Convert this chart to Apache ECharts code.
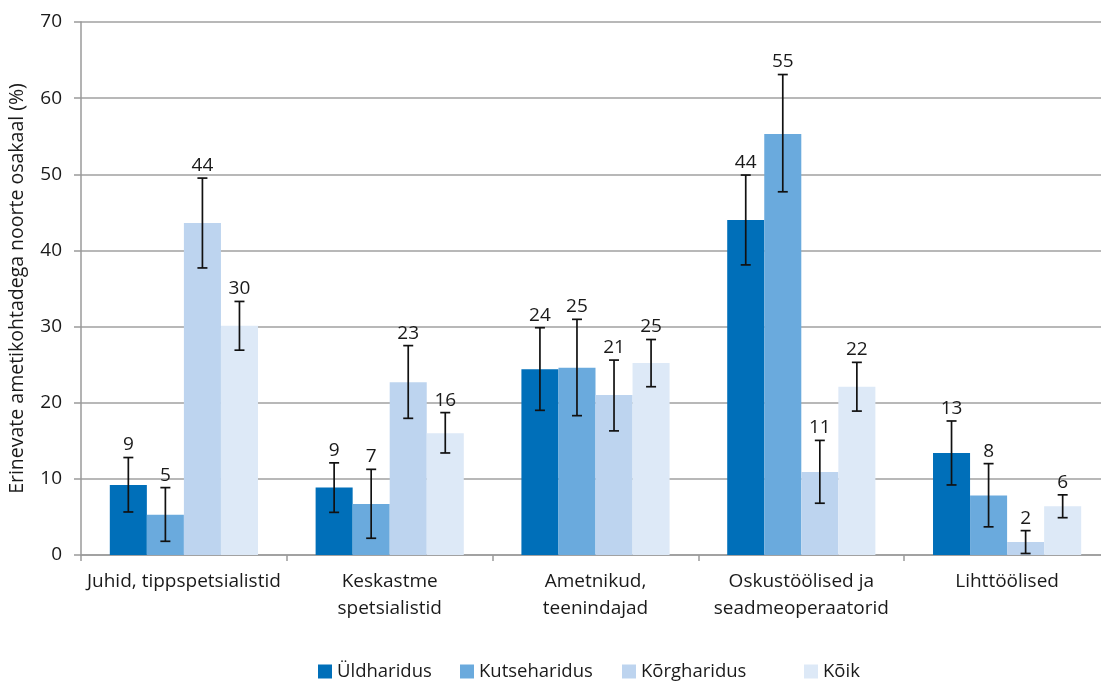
<!DOCTYPE html>
<html><head><meta charset="utf-8">
<script src="https://cdn.jsdelivr.net/npm/echarts@6/dist/echarts.min.js"></script>
<style>html,body{margin:0;padding:0;background:#fff}#c{width:1101px;height:681px}</style>
</head><body><div id="c"></div>
<script>
const categories = ['Juhid, tippspetsialistid', 'Keskastme\nspetsialistid', 'Ametnikud,\nteenindajad', 'Oskustöölised ja\nseadmeoperaatorid', 'Lihttöölised'];
const seriesNames = ['Üldharidus', 'Kutseharidus', 'Kõrgharidus', 'Kõik'];
const yTicks = [0, 10, 20, 30, 40, 50, 60, 70];

const uldValues = [9.2, 8.85, 24.4, 44.0, 13.4];
const uldLow    = [5.65, 5.6, 19.0, 38.1, 9.2];
const uldHigh   = [12.8, 12.1, 29.85, 49.9, 17.6];

const kutseValues = [5.3, 6.7, 24.6, 55.3, 7.8];
const kutseLow    = [1.8, 2.2, 18.3, 47.7, 3.7];
const kutseHigh   = [8.85, 11.25, 30.95, 63.1, 12.0];

const korgValues = [43.6, 22.7, 21.0, 10.9, 1.7];
const korgLow    = [37.7, 17.95, 16.3, 6.8, 0.2];
const korgHigh   = [49.5, 27.5, 25.6, 15.05, 3.2];

const koikValues = [30.1, 16.0, 25.2, 22.1, 6.4];
const koikLow    = [26.9, 13.4, 22.1, 18.9, 4.9];
const koikHigh   = [33.3, 18.7, 28.3, 25.3, 7.9];

const colors = ['#006fb9', '#6aaadd', '#bdd4ef', '#dde9f7'];
const FONT = '"Open Sans", "Noto Sans", sans-serif';
const CAT_GAP = 0.28;
const legendLefts = [318, 460, 622, 804];

const groups = [
  [uldValues, uldLow, uldHigh],
  [kutseValues, kutseLow, kutseHigh],
  [korgValues, korgLow, korgHigh],
  [koikValues, koikLow, koikHigh]
];

const series = [];
groups.forEach((g, si) => {
  series.push({
    name: seriesNames[si], type: 'bar', data: g[0],
    itemStyle: { color: colors[si] },
    barGap: '0%', barCategoryGap: (CAT_GAP * 100) + '%',
    silent: true
  });
});
groups.forEach((g, si) => {
  const data = g[0].map((v, i) => [i, g[1][i], g[2][i], v]);
  series.push({
    type: 'custom', name: seriesNames[si] + '_err', z: 10, silent: true,
    data: data,
    renderItem: function (params, api) {
      const ci = api.value(0);
      const lo = api.coord([ci, api.value(1)]);
      const hi = api.coord([ci, api.value(2)]);
      const band = api.size([1, 0])[0];
      const bw = band * (1 - CAT_GAP) / 4;
      const x = lo[0] + (si - 1.5) * bw;
      const cap = 5;
      const st = { stroke: '#111', lineWidth: 1.7 };
      return {
        type: 'group',
        children: [
          { type: 'line', shape: { x1: x, y1: lo[1], x2: x, y2: hi[1] }, style: st },
          { type: 'line', shape: { x1: x - cap, y1: lo[1], x2: x + cap, y2: lo[1] }, style: st },
          { type: 'line', shape: { x1: x - cap, y1: hi[1], x2: x + cap, y2: hi[1] }, style: st },
          { type: 'text', x: x, y: hi[1] - 3,
            style: { text: String(Math.round(api.value(3))), x: 0, y: 0, fill: '#1a1a1a',
              font: '19px ' + FONT, align: 'center', verticalAlign: 'bottom' } }
        ]
      };
    }
  });
});

const legends = seriesNames.map((n, i) => ({
  data: [n], left: legendLefts[i], top: 662, padding: 0,
  itemWidth: 14, itemHeight: 14, icon: 'rect',
  textStyle: { fontFamily: FONT, fontSize: 18.5, color: '#1a1a1a' }
}));

const chart = echarts.init(document.getElementById('c'));
chart.setOption({
  animation: false,
  backgroundColor: '#fff',
  grid: { left: 81, top: 22, right: -9, bottom: 126, outerBoundsMode: 'none', containLabel: false },
  legend: legends,
  xAxis: {
    type: 'category', data: categories,
    axisLine: { lineStyle: { color: '#9a9a9a', width: 1.5 } },
    axisTick: { show: true, length: 6, lineStyle: { color: '#9a9a9a', width: 1.5 } },
    axisLabel: { fontFamily: FONT, fontSize: 19, color: '#1a1a1a', margin: 13, lineHeight: 27, interval: 0 }
  },
  yAxis: {
    type: 'value', min: 0, max: 70, interval: 10,
    name: 'Erinevate ametikohtadega noorte osakaal (%)',
    nameLocation: 'middle', nameGap: 54, nameRotate: 90,
    nameTextStyle: { fontFamily: FONT, fontSize: 19.5, color: '#1a1a1a' },
    axisLine: { show: true, lineStyle: { color: '#9a9a9a', width: 1.5 } },
    axisTick: { show: true, length: 7, lineStyle: { color: '#9a9a9a', width: 1.5 } },
    splitLine: { lineStyle: { color: '#a0a0a0', width: 1.5 } },
    axisLabel: { fontFamily: FONT, fontSize: 19, color: '#1a1a1a', margin: 19,
      formatter: v => yTicks.includes(v) ? String(v) : '' }
  },
  series: series
});
</script></body></html>
